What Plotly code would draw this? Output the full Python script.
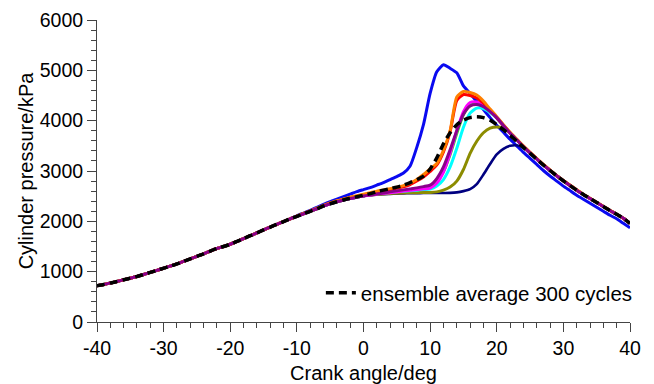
import plotly.graph_objects as go

# crank angles (deg) for the shared compression stroke and for each cycle
compression_angle = list(range(-40, -10))          # -40 .. -11
cycle_angle = list(range(-10, 41))                 # -10 .. 40

# tick labels
x_tickvals = [-40, -30, -20, -10, 0, 10, 20, 30, 40]
x_ticktext = ["-40", "-30", "-20", "-10", "0", "10", "20", "30", "40"]
y_tickvals = [0, 1000, 2000, 3000, 4000, 5000, 6000]
y_ticktext = ["0", "1000", "2000", "3000", "4000", "5000", "6000"]

# shared compression curve, -40 .. -11 deg (kPa)
compression = [720, 745, 775, 805, 840, 870, 905, 945, 985, 1025,
               1070, 1110, 1155, 1205, 1255, 1305, 1355, 1410, 1460, 1500,
               1545, 1600, 1655, 1715, 1770, 1830, 1885, 1940, 1995, 2050]

# individual cycles, -10 .. 40 deg (kPa)
blue = [2110, 2165, 2220, 2275, 2335, 2390, 2440, 2490, 2540, 2590,
        2630, 2670, 2720, 2770, 2830, 2890, 2960, 3100, 3470, 3920,
        4540, 4970, 5110, 5040, 4950, 4690, 4540, 4380, 4220, 4060,
        3910, 3770, 3630, 3500, 3370, 3250, 3130, 3010, 2900, 2800,
        2700, 2610, 2520, 2440, 2360, 2280, 2200, 2120, 2050, 1960, 1870]
navy = [2100, 2150, 2200, 2250, 2305, 2350, 2390, 2425, 2455, 2480,
        2505, 2520, 2530, 2540, 2545, 2550, 2555, 2558, 2560, 2562,
        2562, 2562, 2563, 2565, 2575, 2600, 2640, 2740, 2930, 3140,
        3330, 3440, 3500, 3510, 3460, 3350, 3240, 3120, 3010, 2905,
        2805, 2710, 2620, 2535, 2455, 2375, 2295, 2215, 2140, 2060, 1960]
olive = [2100, 2150, 2200, 2250, 2305, 2350, 2390, 2425, 2455, 2480,
         2505, 2520, 2535, 2545, 2555, 2560, 2565, 2568, 2570, 2572,
         2575, 2585, 2620, 2680, 2800, 3030, 3350, 3590, 3760, 3850,
         3875, 3850, 3750, 3630, 3490, 3360, 3240, 3120, 3010, 2905,
         2805, 2710, 2620, 2535, 2455, 2375, 2295, 2215, 2140, 2060, 1960]
cyan = [2100, 2150, 2200, 2250, 2305, 2350, 2390, 2425, 2455, 2480,
        2505, 2525, 2545, 2560, 2575, 2590, 2600, 2610, 2620, 2630,
        2640, 2700, 2830, 3080, 3450, 3870, 4150, 4250, 4240, 4160,
        4050, 3900, 3750, 3615, 3485, 3360, 3240, 3120, 3010, 2905,
        2805, 2710, 2620, 2535, 2455, 2375, 2295, 2215, 2140, 2060, 1960]
green = [2100, 2150, 2200, 2250, 2305, 2350, 2390, 2425, 2455, 2480,
         2505, 2525, 2545, 2565, 2585, 2600, 2615, 2630, 2645, 2665,
         2690, 2800, 2990, 3330, 3750, 4120, 4300, 4340, 4300, 4190,
         4060, 3905, 3755, 3620, 3485, 3360, 3240, 3120, 3010, 2905,
         2805, 2710, 2620, 2535, 2455, 2375, 2295, 2215, 2140, 2060, 1960]
magenta = [2100, 2150, 2200, 2250, 2305, 2350, 2390, 2425, 2455, 2480,
           2505, 2520, 2540, 2555, 2570, 2585, 2600, 2615, 2630, 2645,
           2660, 2760, 2980, 3350, 3800, 4180, 4360, 4370, 4320, 4200,
           4060, 3905, 3755, 3620, 3485, 3360, 3240, 3120, 3010, 2905,
           2805, 2710, 2620, 2535, 2455, 2375, 2295, 2215, 2140, 2060, 1960]
red = [2105, 2155, 2205, 2255, 2310, 2360, 2400, 2435, 2470, 2500,
       2530, 2555, 2580, 2605, 2630, 2655, 2685, 2730, 2800, 2880,
       2990, 3120, 3380, 3780, 4400, 4520, 4500, 4450, 4350, 4210,
       4060, 3910, 3760, 3625, 3490, 3365, 3245, 3125, 3015, 2905,
       2805, 2710, 2620, 2535, 2455, 2375, 2295, 2215, 2140, 2060, 1960]
orange = [2105, 2155, 2205, 2260, 2315, 2365, 2410, 2445, 2480, 2510,
          2540, 2570, 2600, 2625, 2650, 2680, 2710, 2760, 2830, 2930,
          3040, 3150, 3410, 3800, 4470, 4580, 4560, 4510, 4390, 4230,
          4080, 3920, 3770, 3630, 3500, 3370, 3250, 3130, 3020, 2910,
          2810, 2720, 2630, 2540, 2460, 2380, 2300, 2220, 2140, 2060, 1960]
purple = [2100, 2150, 2200, 2250, 2305, 2350, 2390, 2425, 2455, 2480,
          2505, 2525, 2545, 2565, 2585, 2605, 2625, 2645, 2665, 2690,
          2720, 2850, 3080, 3420, 3800, 4130, 4290, 4320, 4280, 4180,
          4060, 3905, 3755, 3620, 3485, 3360, 3240, 3120, 3010, 2905,
          2805, 2710, 2620, 2535, 2455, 2375, 2295, 2215, 2140, 2060, 1960]
ensemble = [2100, 2150, 2200, 2250, 2305, 2350, 2390, 2425, 2460, 2490,
            2520, 2550, 2590, 2620, 2650, 2680, 2720, 2770, 2830, 2900,
            3040, 3260, 3540, 3760, 3920, 4010, 4060, 4076, 4060, 4010,
            3920, 3820, 3710, 3590, 3470, 3350, 3235, 3120, 3010, 2905,
            2805, 2710, 2620, 2535, 2455, 2375, 2295, 2215, 2140, 2060, 1960]

cycles = [
    ("#0a0af0", blue, 3),
    ("#000080", navy, 2.6),
    ("#8c8c00", olive, 3),
    ("#00ffff", cyan, 3),
    ("#00ff00", green, 3),
    ("#ff00ff", magenta, 3),
    ("#ff0000", red, 3),
    ("#ff7f00", orange, 3),
    ("#8b008b", purple, 3),
]

x_all = compression_angle + cycle_angle

fig = go.Figure()
for color, vals, w in cycles:
    fig.add_trace(go.Scatter(
        x=x_all, y=compression + vals, mode="lines",
        line=dict(color=color, width=w, shape="spline", smoothing=0.6),
        showlegend=False, hoverinfo="skip"))

fig.add_trace(go.Scatter(
    x=x_all, y=compression + ensemble, mode="lines",
    name="ensemble average 300 cycles",
    line=dict(color="black", width=3.5, dash="8px,5px", shape="spline", smoothing=0.6)))

font = "Liberation Sans, Arial, sans-serif"
axis_common = dict(
    showgrid=False, zeroline=False, showline=True, linecolor="#444",
    linewidth=1, ticks="outside", ticklen=9, tickcolor="#444", tickwidth=1,
    tickfont=dict(family=font, size=19.5, color="black"),
    mirror=False, automargin=False,
)

fig.update_xaxes(
    range=[-40, 40], tickvals=x_tickvals, ticktext=x_ticktext,
    minor=dict(dtick=2, tick0=0, ticks="outside", ticklen=5, tickcolor="#444", tickwidth=1),
    title=dict(text="Crank angle/deg", font=dict(family=font, size=20, color="black"), standoff=8),
    **axis_common)
fig.update_yaxes(
    range=[0, 6000], tickvals=y_tickvals, ticktext=y_ticktext,
    minor=dict(dtick=200, tick0=0, ticks="outside", ticklen=5, tickcolor="#444", tickwidth=1),
    title=dict(text="Cylinder pressure/kPa", font=dict(family=font, size=20, color="black"), standoff=0),
    **axis_common)

fig.update_layout(
    width=654, height=384,
    margin=dict(l=97, r=24, t=20, b=62),
    plot_bgcolor="white", paper_bgcolor="white",
    font=dict(family=font, size=20, color="black"),
    legend=dict(x=0.42, y=0.096, xanchor="left", yanchor="middle",
                bgcolor="rgba(0,0,0,0)", font=dict(family=font, size=20.5, color="black"),
                itemwidth=30),
)

fig.write_html("out.html")
